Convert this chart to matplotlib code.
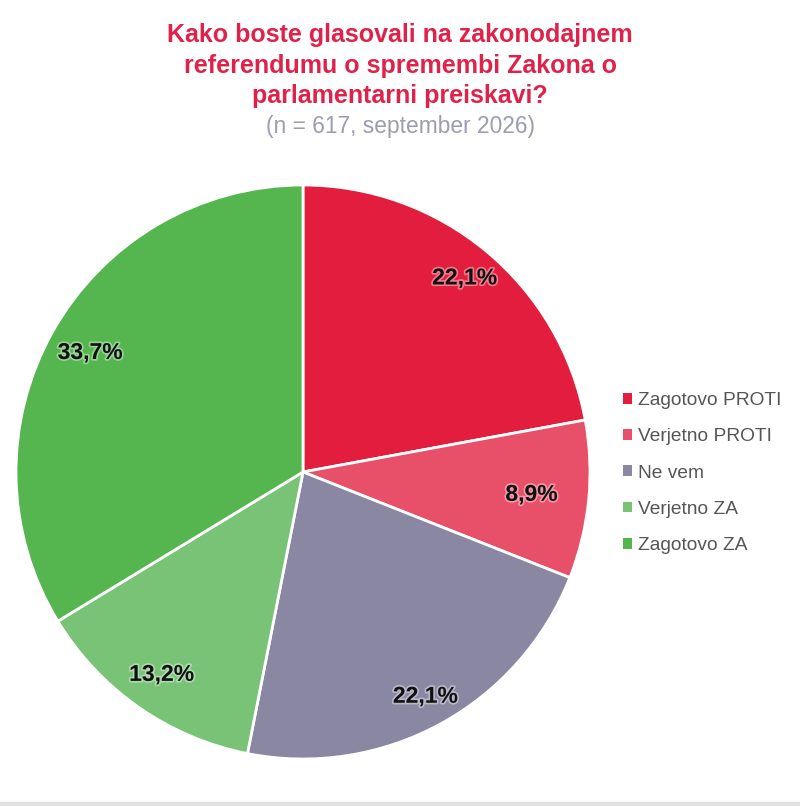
import numpy as np
import matplotlib.pyplot as plt
import matplotlib.patheffects as pe
from matplotlib.patches import Patch

plt.rcParams['font.family'] = ['Liberation Sans', 'DejaVu Sans']

categories = ['Zagotovo PROTI', 'Verjetno PROTI', 'Ne vem', 'Verjetno ZA', 'Zagotovo ZA']
values = [22.1, 8.9, 22.1, 13.2, 33.7]
colors = ['#E31D3D', '#E8506A', '#8A87A3', '#78C376', '#55B54F']

title = 'Kako boste glasovali na zakonodajnem\nreferendumu o spremembi Zakona o\nparlamentarni preiskavi?'
subtitle = '(n = 617, september 2026)'

fig = plt.figure(figsize=(8, 8.06), dpi=100)
ax = fig.add_axes([0.02, 0.0583, 0.7175, 0.7122])

wedges, _ = ax.pie(values, colors=colors, startangle=90, counterclock=False,
                   wedgeprops=dict(edgecolor='white', linewidth=2))
ax.set_xlim(-1, 1)
ax.set_ylim(-1, 1)
ax.set_aspect('equal')

# label distance from centre
label_r = [0.88, 0.80, 0.89, 0.86, 0.85]
for w, v, r in zip(wedges, values, label_r):
    ang = np.deg2rad((w.theta1 + w.theta2) / 2)
    ax.text(r * np.cos(ang), r * np.sin(ang), f'{v:.1f}%'.replace('.', ','),
            ha='center', va='center', fontsize=16.5, fontweight='bold', color='#111111',
            path_effects=[pe.withStroke(linewidth=2.5, foreground='white', alpha=0.4)])

handles = [Patch(facecolor=c, edgecolor='none') for c in colors]
fig.legend(handles, categories, loc='center left', bbox_to_anchor=(0.757, 0.413),
           frameon=False, fontsize=13.8, handlelength=0.5, handleheight=0.5,
           handletextpad=0.3, labelspacing=1.0, labelcolor='#555555')

fig.text(0.5, 0.971, title, ha='center', va='top', fontsize=18, fontweight='bold',
         color='#E0224A', linespacing=1.33)
fig.text(0.5, 0.843, subtitle, ha='center', va='center', fontsize=16.4, color='#9C9CB2')

fig.patches.append(plt.Rectangle((0, 0), 1, 0.005, transform=fig.transFigure,
                                 color='#E2E2E2', zorder=-1))

fig.savefig('out.png', dpi=100)
